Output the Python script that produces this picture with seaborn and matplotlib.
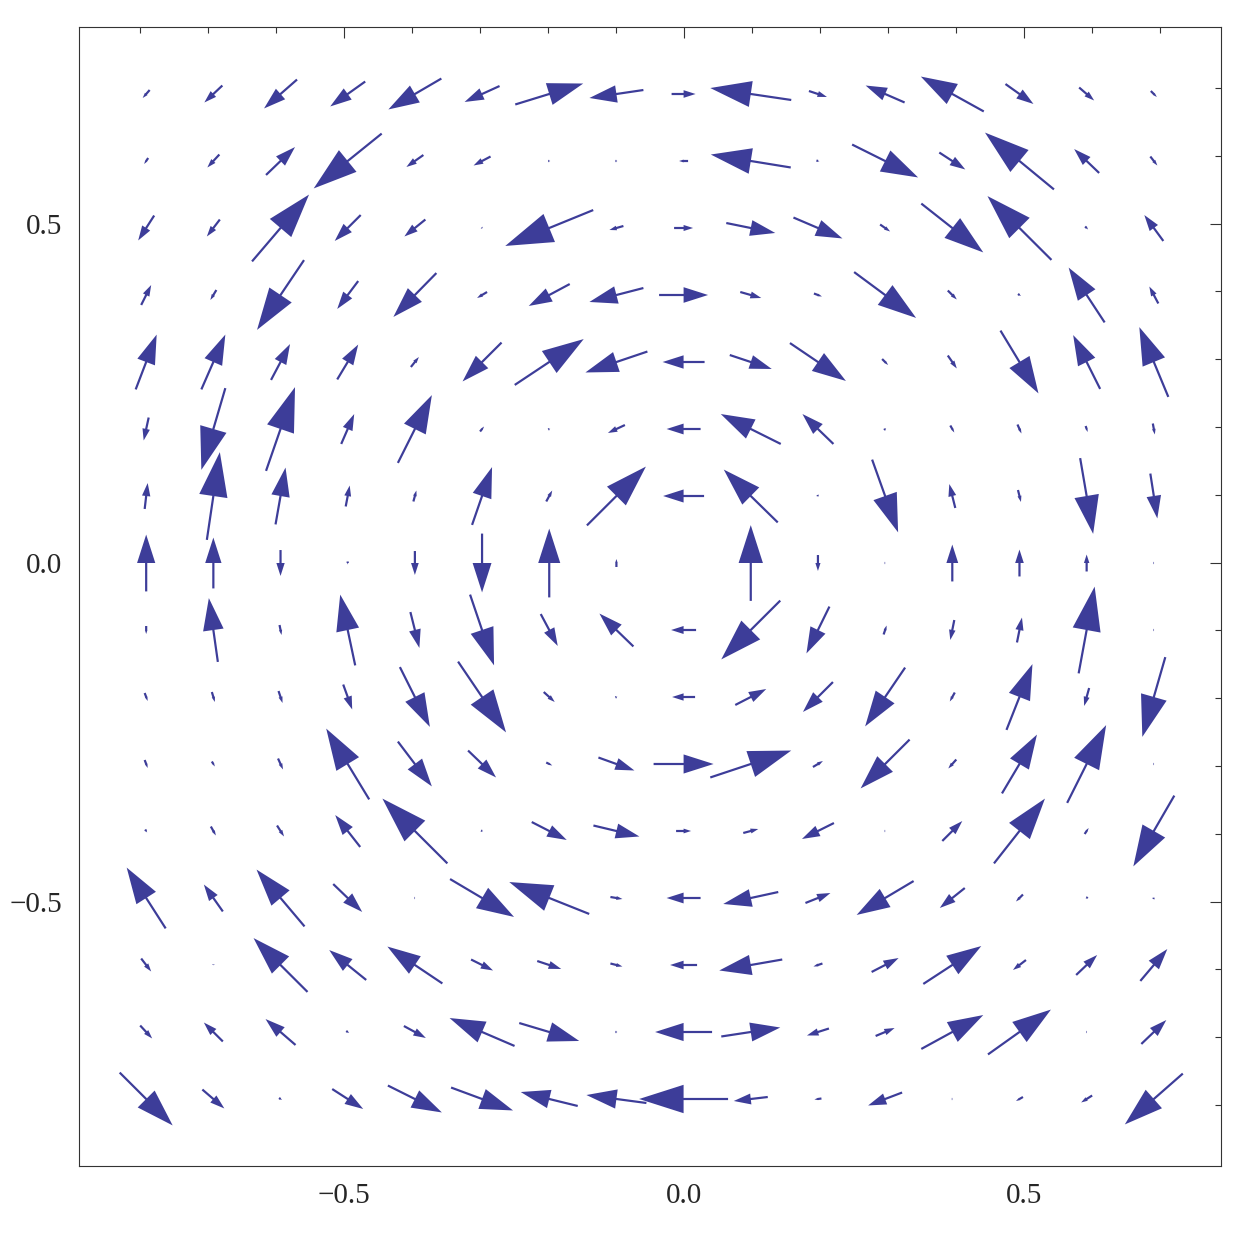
import numpy as np
import matplotlib
matplotlib.use("Agg")
import matplotlib.pyplot as plt
import seaborn as sns

# Vector field sampled on a 16 x 16 grid (rows from top y=0.69 down to y=-0.79)
# components read off the picture, arbitrary units (1 unit = 1/680 of axis length)
U = [
    [-7, -18, -33, -35, -53, -35, 68, -54, 24, -81, 18, -39, -63, 28, 15, 6],
    [-4, -12, 29, -68, -17, -17, 2, 2, -9, -80, 3, 66, 26, -69, -25, 7],
    [-16, -13, 57, -26, -21, 1, -88, -14, 19, 49, 49, 10, 62, -64, 3, -19],
    [10, -6, -47, -21, -43, -10, -41, -54, 49, 21, 8, 62, 9, 3, -36, -9],
    [21, 24, 19, 21, 8, -39, 69, -62, -42, 42, 56, 6, 9, 38, -27, -29],
    [-5, -24, 29, 13, 34, 4, 2, -17, -34, -60, -31, 2, 4, 4, 2, 2],
    [3, 13, 10, 4, 3, 20, 6, 59, -41, -54, 1, 26, -6, 3, 13, 7],
    [0, 0, 0, 0, 0, 0, 0, 0, 0, 0, 0, 1, 0, 0, 0, 1],
    [0, -9, 2, -15, 9, 24, 17, -34, -25, -59, -23, 3, -4, 5, 16, 1],
    [3, 3, 4, 9, 30, 48, 11, 2, -23, 31, -30, -40, -5, 26, -5, -23],
    [3, 3, 5, -43, 34, 28, 6, 36, 60, 81, 10, -49, -8, 35, 39, 1],
    [2, 5, 7, -25, -65, 2, 35, 46, 15, 15, -32, 1, 20, 51, 4, -41],
    [-39, -19, -48, 29, 1, 64, -80, 12, -34, -55, 25, -57, -25, -7, -2, 1],
    [10, 0, -54, -37, -55, 22, 24, 12, -27, -63, -9, 27, 58, -13, 21, 27],
    [12, -19, -30, 3, 22, -65, 60, 2, -57, 59, -22, 19, 62, 63, 1, 25],
    [53, 22, 3, 31, 54, 62, -57, -60, -89, -34, -7, -34, 1, -7, -11, -58],
]
V = [
    [-8, -17, -29, -25, -31, -16, 21, -8, 0, 12, -6, 17, 35, -20, -13, -6],
    [-6, -13, 28, -55, -12, -9, 0, 0, 0, 13, -1, -33, -17, 57, 24, -9],
    [-25, -17, 67, -26, -17, -1, -36, -4, 0, -10, -21, -7, -49, 64, -3, 26],
    [20, -10, -70, -28, -44, -6, -22, -14, 0, -6, -3, -46, -9, -2, 55, 17],
    [55, 55, 36, 35, 10, -39, 46, -21, 0, -14, -38, -6, -13, -63, 54, 70],
    [-23, -82, 84, 30, 68, 5, 1, -8, 0, 30, 30, 2, -7, -9, -6, -11],
    [26, 88, 57, 21, 11, 58, 11, 59, 0, 53, -2, -73, 24, -12, -76, -45],
    [57, 51, -26, -3, -24, -59, 69, 8, 0, 76, -16, 0, 37, 27, 17, 0],
    [-8, 64, -10, 71, -36, -71, -32, 33, 0, -59, -47, 9, -20, 25, 87, 0],
    [-8, -10, -12, -25, -60, -71, -10, 1, 0, 16, -30, -59, -9, 66, -18, -80],
    [-8, -5, -11, 71, -45, -27, -3, -13, 0, 27, 6, -49, -9, 59, 78, 0],
    [-3, -9, -11, 32, 65, -1, -18, -11, 0, 4, -16, 0, 20, 65, 6, -71],
    [61, 27, 57, -28, 0, -38, 32, -2, 0, -12, 10, -34, -20, -7, -2, 2],
    [-13, -1, 54, 30, 37, -11, -8, -3, 0, -11, -3, 14, 38, -10, 20, 32],
    [-13, 19, 26, -2, -12, 28, -18, 0, 0, 9, -7, 8, 34, 45, 0, 24],
    [-53, -19, -2, -20, -27, -23, 14, 8, 0, -4, -1, -13, 0, -4, -7, -51],
]

lo, hi = -0.89, 0.79
ticks = [-0.5, 0.0, 0.5]
minor = np.arange(-0.8, 0.75, 0.1)

sns.set_style("white")
plt.rcParams["font.family"] = ["Liberation Serif", "DejaVu Serif"]

xs = np.linspace(lo, hi, 18)[1:-1]
ys = np.linspace(lo, hi, 18)[1:-1][::-1]
X, Y = np.meshgrid(xs, ys)
scale = 1 / 680.0
Uarr = np.array(U) * scale
Varr = np.array(V) * scale

fig = plt.figure(figsize=(12.5, 12.5), dpi=100)
ax = fig.add_axes([0.0632, 0.0672, 0.9136, 0.9112])
color = "#3d3d99"
for x, y, u, v in zip(X.ravel(), Y.ravel(), Uarr.ravel(), Varr.ravel()):
    L = np.hypot(u, v)
    if L < 0.5 * scale:
        continue
    ax.arrow(x - u / 2, y - v / 2, u, v, width=2.2 * scale,
             head_width=0.32 * L, head_length=0.5 * L,
             length_includes_head=True, color=color, lw=0)

ax.set_xlim(lo, hi)
ax.set_ylim(lo, hi)
ax.set_xticks(ticks)
ax.set_yticks(ticks)
ax.set_xticklabels(["\u22120.5", "0.0", "0.5"])
ax.set_yticklabels(["\u22120.5", "0.0", "0.5"])
ax.set_xticks(minor, minor=True)
ax.set_yticks(minor, minor=True)
ax.tick_params(which="both", direction="in", top=True, right=True,
               color="#333333", width=0.8, labelsize=21)
ax.tick_params(which="major", length=8)
ax.tick_params(which="minor", length=4)
ax.tick_params(axis="x", pad=12)
ax.tick_params(axis="y", pad=12)
for s in ax.spines.values():
    s.set_color("#333333")
    s.set_linewidth(0.8)

fig.savefig("out.png", dpi=100)
